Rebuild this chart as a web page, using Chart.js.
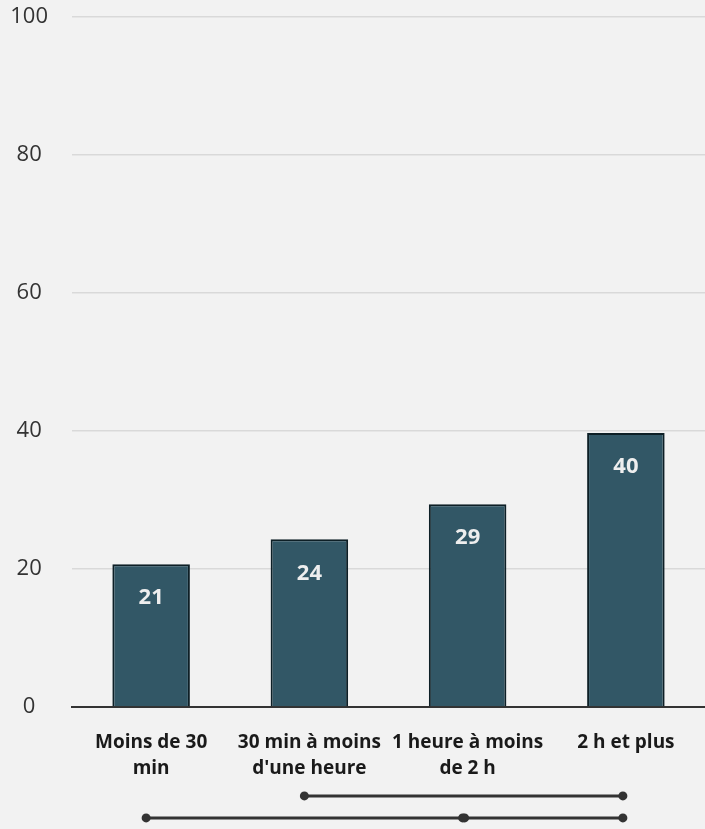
<!DOCTYPE html>
<html>
<head>
<meta charset="utf-8">
<script src="https://cdn.jsdelivr.net/npm/chart.js@4"></script>
<style>
  html, body { margin: 0; padding: 0; background: #f2f2f2; overflow: hidden; }
  #wrap { width: 705px; height: 849px; margin-top: -20px; }
</style>
</head>
<body>
<div id="wrap"><canvas id="barChart"></canvas></div>
<script>
// Categories and values
const categories = [
  ['Moins de 30', 'min'],
  ['30 min à moins', "d'une heure"],
  ['1 heure à moins', 'de 2 h'],
  ['2 h et plus']
];
const values = [20.7, 24.3, 29.4, 39.7];
const valueLabels = ['21', '24', '29', '40'];
const yTicks = [0, 20, 40, 60, 80, 100];
// significance brackets below the axis (category indexes)
const sigRows = [
  [[1, 3]],
  [[0, 2], [2, 3]]
];

const FONT = "'Open Sans', 'Noto Sans', sans-serif";

// value labels inside bar tops
const barLabels = {
  id: 'barLabels',
  afterDatasetsDraw(chart) {
    const c = chart.ctx;
    const meta = chart.getDatasetMeta(0);
    c.save();
    c.font = 'bold 22px ' + FONT;
    c.fillStyle = '#eeeeee';
    c.textAlign = 'center';
    c.textBaseline = 'middle';
    meta.data.forEach((bar, i) => {
      c.fillText(valueLabels[i], bar.x, bar.y + 34);
    });
    c.restore();
  }
};

// dot-and-line brackets under the category labels
const sigLines = {
  id: 'sigLines',
  afterDraw(chart) {
    const c = chart.ctx;
    const x = chart.scales.x;
    const base = chart.chartArea.bottom;
    const rowY = [base + 89, base + 111];
    c.save();
    c.strokeStyle = '#333333';
    c.fillStyle = '#333333';
    c.lineWidth = 3;
    sigRows.forEach((row, r) => {
      row.forEach(([a, b]) => {
        const x1 = x.getPixelForValue(a) - 5;
        const x2 = x.getPixelForValue(b) - 3;
        c.beginPath();
        c.moveTo(x1, rowY[r]);
        c.lineTo(x2, rowY[r]);
        c.stroke();
        [x1, x2].forEach(px => {
          c.beginPath();
          c.arc(px, rowY[r], 4.5, 0, Math.PI * 2);
          c.fill();
        });
      });
    });
    c.restore();
  }
};

new Chart(document.getElementById('barChart').getContext('2d'), {
  type: 'bar',
  data: {
    labels: categories,
    datasets: [{
      data: values,
      backgroundColor: '#325766',
      borderColor: '#0d1f26',
      borderWidth: 2,
      borderSkipped: 'bottom',
      barPercentage: 0.49,
      categoryPercentage: 1
    }]
  },
  options: {
    responsive: true,
    maintainAspectRatio: false,
    animation: false,
    layout: { padding: { top: 0, bottom: 24, right: 0, left: 0 } },
    plugins: {
      legend: { display: false },
      tooltip: { enabled: false }
    },
    scales: {
      x: {
        grid: { display: false, drawTicks: false },
        border: { color: '#333333', width: 2 },
        ticks: {
          color: '#1a1a1a',
          font: { family: FONT, size: 19, weight: 'bold', lineHeight: 1.37 },
          maxRotation: 0,
          autoSkip: false,
          padding: 23
        }
      },
      y: {
        min: 0,
        max: 100,
        afterBuildTicks(axis) {
          axis.ticks = yTicks.map(v => ({ value: v }));
        },
        afterFit(axis) { axis.width = 72; },
        grid: { color: '#d9d9d9', lineWidth: 1.5, drawTicks: false },
        border: { display: false },
        ticks: {
          color: '#333333',
          font: { family: FONT, size: 22 },
          crossAlign: 'center',
          padding: 24
        }
      }
    }
  },
  plugins: [barLabels, sigLines]
});
</script>
</body>
</html>
